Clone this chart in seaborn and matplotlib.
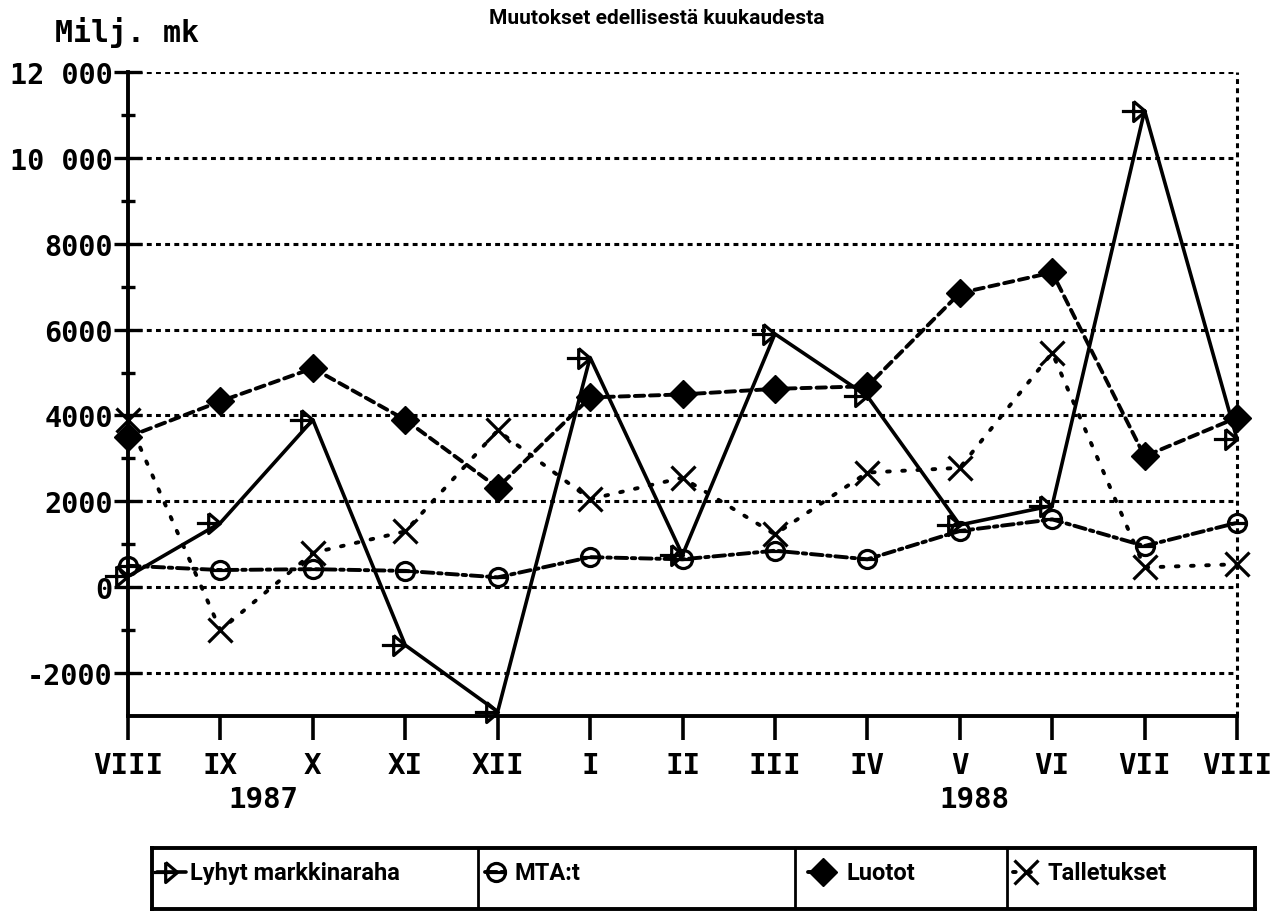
import numpy as np
import matplotlib
matplotlib.use("Agg")
import matplotlib.pyplot as plt
from matplotlib.path import Path
from matplotlib.transforms import blended_transform_factory
import seaborn as sns

# ---- data ----
months = ["VIII", "IX", "X", "XI", "XII", "I", "II", "III", "IV", "V", "VI", "VII", "VIII"]
years = ["1987", "1988"]
series_names = ["Lyhyt markkinaraha", "MTA:t", "Luotot", "Talletukset"]
lyhyt = [250, 1500, 3900, -1350, -2900, 5350, 750, 5900, 4450, 1450, 1900, 11100, 3450]
mta = [500, 400, 420, 380, 230, 700, 650, 850, 650, 1310, 1580, 960, 1500]
luotot = [3500, 4330, 5100, 3900, 2320, 4420, 4490, 4620, 4680, 6850, 7330, 3050, 3950]
talletukset = [3900, -1000, 800, 1300, 3650, 2050, 2550, 1230, 2670, 2780, 5460, 460, 535]
ytick_values = [-2000, 0, 2000, 4000, 6000, 8000, 10000, 12000]
ytick_labels = ["-2000", "0", "2000", "4000", "6000", "8000", "10 000", "12 000"]
y_unit = "Milj. mk"
title = "Muutokset edellisestä kuukaudesta"

sns.set_theme(style="white")
plt.rcParams['font.family'] = ['DejaVu Sans']
plt.rcParams['text.color'] = 'black'
plt.rcParams['xtick.color'] = 'black'
plt.rcParams['ytick.color'] = 'black'
plt.rcParams['axes.labelcolor'] = 'black'
narrow = ['Roboto', 'DejaVu Sans']
mono = ['DejaVu Sans Mono', 'DejaVu Sans']

# ---- markers ----
arrow_marker = Path([(-2, 0), (0, 0), (-1, 0.85), (0, 0), (-1, -0.85), (-1, 0.85)],
                    [Path.MOVETO, Path.LINETO, Path.MOVETO, Path.LINETO, Path.LINETO, Path.LINETO])
circ = Path.unit_circle()
circle_bar = Path.make_compound_path(circ, Path([(-1, 0), (1, 0)], [Path.MOVETO, Path.LINETO]))

styles = [
    dict(linestyle='-', lw=2.6, marker=arrow_marker, ms=34, mfc='none', mec='black', mew=2.3),
    dict(linestyle=(0, (3.0, 1.2, 0.9, 1.2)), lw=2.8, marker=circle_bar, ms=13, mfc='none', mec='black', mew=2.3),
    dict(linestyle=(0, (2.4, 1.5)), lw=2.8, marker='D', ms=14, mfc='black', mec='black', mew=1.0),
    dict(linestyle=(0, (0.7, 3.2)), lw=2.8, marker='x', ms=17, mfc='none', mec='black', mew=2.3),
]
values = [lyhyt, mta, luotot, talletukset]

fig = plt.figure(figsize=(12.83, 9.12), dpi=100)
ax = fig.add_axes([128 / 1283, (912 - 717) / 912, (1237 - 128) / 1283, (717 - 73) / 912])

x = np.arange(len(months))
for vals, st in zip(values, styles):
    sns.lineplot(x=x, y=vals, ax=ax, color='black', clip_on=False, legend=False,
                 dash_capstyle='round', **st)

ax.set_xlim(0, len(months) - 1)
ax.set_ylim(-3000, 12000)
ax.set_xticks(x)
ax.set_xticklabels(months, fontfamily=mono, fontweight='bold', fontsize=21)
ax.set_yticks(ytick_values)
ax.set_yticklabels(ytick_labels, fontfamily=mono, fontweight='bold', fontsize=20.5)
ax.set_yticks(np.arange(-1000, 12000, 2000), minor=True)
ax.tick_params(axis='y', which='both', left=True)
ax.tick_params(axis='x', which='both', bottom=True)
ax.tick_params(axis='y', which='major', direction='inout', length=20, width=2.4, pad=1, colors='black')
ax.tick_params(axis='y', which='minor', direction='inout', length=10, width=2.4, colors='black')
ax.tick_params(axis='x', which='major', direction='out', length=17, width=2.6, pad=8, colors='black')
ax.set_xlabel("")
ax.set_ylabel("")

grid_ls = (0, (1.6, 1.4))
ax.grid(axis='y', which='major', color='black', linestyle=grid_ls, linewidth=2.2)
ax.grid(axis='x', visible=False)
ax.set_axisbelow(True)
ax.axvline(len(months) - 1, color='black', linestyle=grid_ls, linewidth=2.2, clip_on=False, zorder=0.5)
for s in ['top', 'right']:
    ax.spines[s].set_visible(False)
for s in ['left', 'bottom']:
    ax.spines[s].set_linewidth(2.8)
    ax.spines[s].set_color('black')

# unit label and title
fig.text(55 / 1283, 1 - 33 / 912, y_unit, fontfamily=mono, fontweight='bold', fontsize=21.5,
         ha='left', va='center')
fig.text(657 / 1283, 1 - 19 / 912, title, fontfamily=narrow, fontweight='bold', fontsize=15,
         ha='center', va='center')

# year labels
tr = blended_transform_factory(ax.transData, fig.transFigure)
ax.text(1.46, 1 - 800 / 912, years[0], transform=tr, fontfamily=mono, fontweight='bold',
        fontsize=21, ha='center', va='center')
ax.text(9.16, 1 - 800 / 912, years[1], transform=tr, fontfamily=mono, fontweight='bold',
        fontsize=21, ha='center', va='center')

# ---- legend box ----
lax = fig.add_axes([152 / 1283, 2 / 912, (1255 - 152) / 1283, (910 - 849) / 912])
lax.set_xlim(152, 1255)
lax.set_ylim(0, 1)
lax.set_xticks([])
lax.set_yticks([])
for s in lax.spines.values():
    s.set_linewidth(2.8)
    s.set_color('black')
for xd in [478, 795, 1007]:
    lax.axvline(xd, color='black', lw=2.0)
samples = [(157, 186, 177), (485, 508, 496), (808, 838, 823), (1013, 1040, 1026)]
text_x = [190, 515, 847, 1047]
yl = 0.6
for (x0, x1, xm), st, name, tx in zip(samples, styles, series_names, text_x):
    st2 = dict(st)
    lax.plot([x0, x1], [yl, yl], color='black', linestyle=st2.pop('linestyle'), lw=st2.pop('lw'),
             dash_capstyle='round')
    lax.plot([xm], [yl], color='black', linestyle='none', **st2)
    lax.text(tx, yl, name, fontfamily=narrow, fontweight='bold', fontsize=17, ha='left', va='center')

fig.savefig("out.png", dpi=100, facecolor='white')
